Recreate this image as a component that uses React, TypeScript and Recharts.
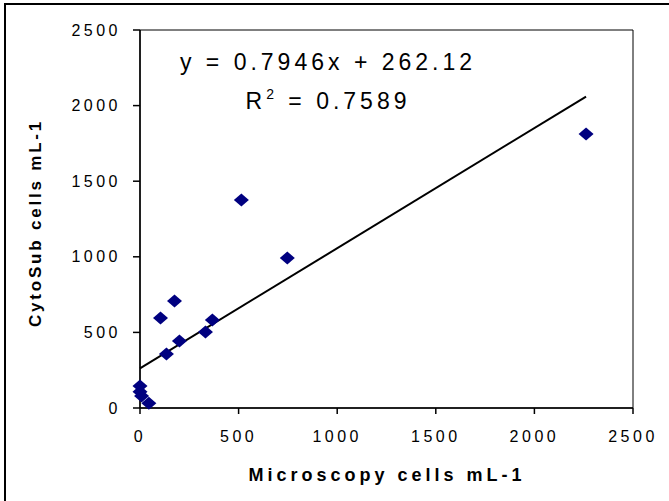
import { ScatterChart, Scatter, XAxis, YAxis, ReferenceLine, ReferenceArea } from "recharts";

const microscopy = [0, 0, 8, 45, 104, 134, 175, 200, 332, 367, 514, 747, 2262];
const cytosub = [145, 108, 79, 31, 595, 357, 708, 443, 503, 582, 1376, 992, 1812];
const ticks = [0, 500, 1000, 1500, 2000, 2500];
const slope = 0.7946;
const intercept = 262.12;

const FONT = "'Liberation Sans', Arial, sans-serif";

const points = microscopy.map((x, i) => ({ x, y: cytosub[i] }));
const xMax = Math.max(...microscopy);
const trend = [
  { x: 0, y: intercept },
  { x: xMax, y: slope * xMax + intercept },
];

const Diamond = (props: any) => {
  const { cx, cy } = props;
  if (cx == null || cy == null) return <g />;
  return (
    <polygon
      points={`${cx},${cy - 6.5} ${cx + 7.5},${cy} ${cx},${cy + 6.5} ${cx - 7.5},${cy}`}
      fill="#000080"
    />
  );
};

const tickStyle = { fontSize: 16, fill: "#000", fontFamily: FONT, letterSpacing: 3.5 };

export default function App() {
  return (
    <div
      style={{
        position: "absolute",
        left: 0,
        top: 0,
        width: 669,
        height: 501,
        overflow: "hidden",
        background: "#fff",
      }}
    >
      <div
        style={{
          position: "absolute",
          left: 4,
          top: 3,
          width: 700,
          height: 600,
          border: "2px solid #000",
        }}
      />
      <div style={{ position: "absolute", left: 0, top: 0 }}>
        <ScatterChart width={669} height={501} margin={{ top: 30, right: 36, bottom: 33, left: 40 }}>
          <XAxis
            type="number"
            dataKey="x"
            domain={[0, 2500]}
            ticks={ticks}
            height={60}
            tickSize={6}
            tickMargin={17}
            stroke="#000"
            strokeWidth={1.5}
            tick={tickStyle}
          />
          <YAxis
            type="number"
            dataKey="y"
            domain={[0, 2500]}
            ticks={ticks}
            width={100}
            tickSize={7}
            tickMargin={12}
            stroke="#000"
            strokeWidth={1.5}
            tick={tickStyle}
          />
          <ReferenceArea
            x1={0}
            x2={2500}
            y1={0}
            y2={2500}
            fill="none"
            stroke="#000"
            strokeWidth={1}
            ifOverflow="visible"
          />
          <ReferenceLine segment={trend} stroke="#000" strokeWidth={2} ifOverflow="visible" />
          <Scatter data={points} shape={<Diamond />} isAnimationActive={false} />
        </ScatterChart>
      </div>
      <svg
        width={669}
        height={501}
        style={{ position: "absolute", left: 0, top: 0, pointerEvents: "none" }}
      >
        <text x={328} y={70} textAnchor="middle" fontFamily={FONT} fontSize={23} letterSpacing={4} fill="#000">
          y = 0.7946x + 262.12
        </text>
        <text x={328} y={109} textAnchor="middle" fontFamily={FONT} fontSize={23} letterSpacing={4} fill="#000">
          R
          <tspan fontSize={14} dy={-10}>2</tspan>
          <tspan dy={10}> = 0.7589</tspan>
        </text>
        <text
          x={41}
          y={223}
          transform="rotate(-90, 41, 223)"
          textAnchor="middle"
          fontFamily={FONT}
          fontSize={17}
          fontWeight="bold"
          letterSpacing={2.8}
          fill="#000"
        >
          CytoSub cells mL-1
        </text>
        <text
          x={387}
          y={481}
          textAnchor="middle"
          fontFamily={FONT}
          fontSize={18}
          fontWeight="bold"
          letterSpacing={4}
          fill="#000"
        >
          Microscopy cells mL-1
        </text>
      </svg>
    </div>
  );
}
